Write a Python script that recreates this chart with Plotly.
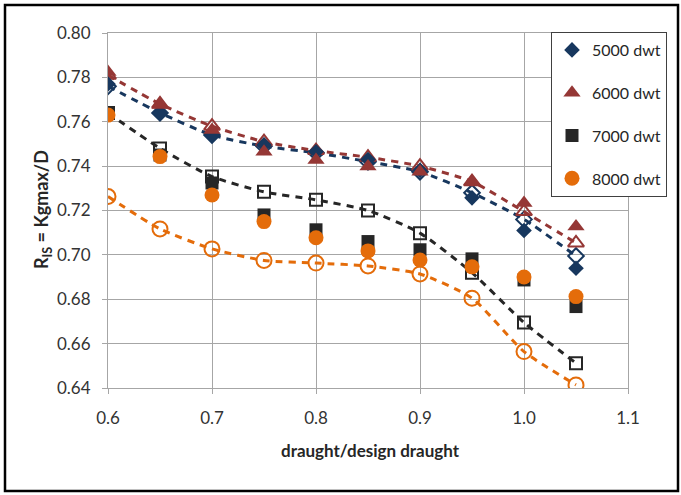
import plotly.graph_objects as go

x = [0.6, 0.65, 0.7, 0.75, 0.8, 0.85, 0.9, 0.95, 1.0, 1.05]

# measured points
d5000 = [0.777, 0.764, 0.754, 0.7495, 0.7465, 0.743, 0.738, 0.7257, 0.711, 0.694]
d6000 = [0.7824, 0.7676, 0.7563, 0.7465, 0.7428, 0.7398, 0.7375, 0.733, 0.7234, 0.7128]
d7000 = [0.764, 0.745, 0.7324, 0.718, 0.7113, 0.706, 0.7023, 0.6982, 0.6887, 0.6767]
d8000 = [0.763, 0.7443, 0.727, 0.715, 0.7077, 0.7018, 0.6977, 0.6946, 0.690, 0.6812]

# fitted (open markers, dashed)
f5000 = [0.776, 0.764, 0.754, 0.749, 0.746, 0.742, 0.7375, 0.728, 0.716, 0.6995]
f6000 = [0.781, 0.768, 0.758, 0.751, 0.747, 0.744, 0.740, 0.733, 0.7195, 0.7054]
f7000 = [0.764, 0.748, 0.7353, 0.7284, 0.7248, 0.720, 0.7098, 0.692, 0.6695, 0.6512]
f8000 = [0.7263, 0.7117, 0.7027, 0.6975, 0.6963, 0.695, 0.6914, 0.6805, 0.6564, 0.6414]

names = ["5000 dwt", "6000 dwt", "7000 dwt", "8000 dwt"]
x_ticks = [0.6, 0.7, 0.8, 0.9, 1.0, 1.1]
x_ticklabels = ["0.6", "0.7", "0.8", "0.9", "1.0", "1.1"]
y_ticks = [0.64, 0.66, 0.68, 0.70, 0.72, 0.74, 0.76, 0.78, 0.80]

navy = "#17375E"
red = "#953735"
black = "#262626"
orange = "#E46C0A"

fig = go.Figure()

fits = [
    (f5000, navy, "diamond-open", 12),
    (f6000, red, "triangle-up-open", 14),
    (f7000, black, "square-open", 12),
    (f8000, orange, "circle-open", 15),
]
for vals, col, sym, sz in fits:
    fig.add_trace(go.Scatter(
        x=x, y=vals, mode="lines+markers", showlegend=False,
        line=dict(color=col, width=3, dash="7px,6px", shape="spline", smoothing=0.6),
        marker=dict(symbol=sym, size=sz, color=col, line=dict(color=col, width=2)),
    ))

meas = [
    (d5000, navy, "diamond", 12),
    (d6000, red, "triangle-up", 15),
    (d7000, black, "square", 13),
    (d8000, orange, "circle", 15),
]
for name, (vals, col, sym, sz) in zip(names, meas):
    fig.add_trace(go.Scatter(
        x=x, y=vals, mode="markers", name=name, legendgroup=name,
        marker=dict(symbol=sym, size=sz, color=col, line=dict(width=0)),
    ))

W, H = 681, 495
L, R, T, B = 108, 53, 33, 107
pw, ph = W - L - R, H - T - B

def px(xp):
    return (xp - L) / pw

def py(yp):
    return 1 - (yp - T) / ph

grid = "#A6A6A6"
font = "Lato"

fig.update_layout(
    width=W, height=H,
    margin=dict(l=L, r=R, t=T, b=B, pad=0),
    paper_bgcolor="white", plot_bgcolor="white",
    font=dict(family=font, size=17, color="#333333"),
    legend=dict(
        x=px(551), y=py(32), xanchor="left", yanchor="top",
        bgcolor="white", bordercolor="#404040", borderwidth=1,
        font=dict(family=font, size=16, color="#262626"),
        tracegroupgap=19, traceorder="grouped",
    ),
    xaxis=dict(
        range=[0.6, 1.1], tickvals=x_ticks, ticktext=x_ticklabels,
        showgrid=True, gridcolor=grid, gridwidth=1,
        showline=True, linecolor=grid, linewidth=1, mirror=True,
        ticks="outside", ticklen=5, tickcolor=grid,
        zeroline=False, ticklabelstandoff=10,
    ),
    yaxis=dict(
        range=[0.64, 0.80], tickvals=y_ticks, tickformat=".2f",
        showgrid=True, gridcolor=grid, gridwidth=1,
        showline=True, linecolor=grid, linewidth=1, mirror=True,
        ticks="outside", ticklen=5, tickcolor=grid,
        zeroline=False, ticklabelstandoff=8,
    ),
    annotations=[
        dict(text="draught/design draught", xref="paper", yref="paper",
             x=px(370), y=py(450), xanchor="center", yanchor="middle",
             showarrow=False, font=dict(family=font, size=17, color="#262626", weight="bold")),
        dict(text="R<sub>IS</sub> = Kgmax/D", xref="paper", yref="paper",
             x=px(42), y=py(210), xanchor="center", yanchor="middle", textangle=-90,
             showarrow=False, font=dict(family=font, size=18, color="#262626", weight="bold")),
    ],
    shapes=[
        dict(type="rect", xref="paper", yref="paper",
             x0=px(5), x1=px(678), y0=py(491), y1=py(5),
             line=dict(color="black", width=2.5), fillcolor="rgba(0,0,0,0)", layer="above"),
    ],
)

fig.write_html("out.html")
